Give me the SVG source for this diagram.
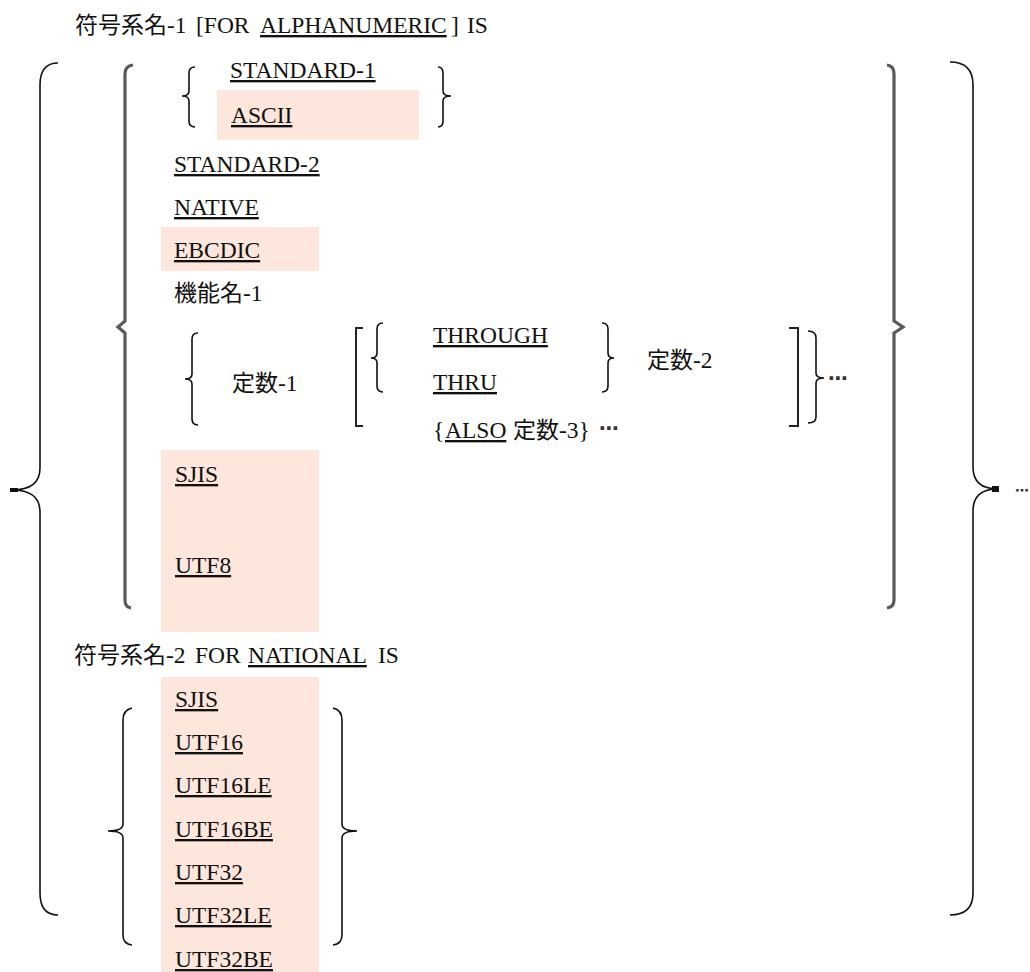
<svg xmlns="http://www.w3.org/2000/svg" width="1030" height="972" viewBox="0 0 1030 972">
<style>
text{font-family:"Liberation Serif","Noto Sans CJK JP",serif;font-size:23.5px;fill:#111}
.cjk{font-size:23px}
.u{text-decoration:underline}
.hl{fill:#fde6dc}
.thin{fill:none;stroke:#111;stroke-width:1.6}
.thick{fill:none;stroke:#5a5a5a;stroke-width:3.2}
.mid{fill:none;stroke:#222;stroke-width:2}
.dots{font-family:"DejaVu Sans",sans-serif;font-size:20px;fill:#333;font-weight:bold}
</style>
<rect width="1030" height="972" fill="#fff"/>
<g id="highlights">
<rect class="hl" x="217" y="90" width="202" height="50"/>
<rect class="hl" x="161" y="227" width="158" height="44"/>
<rect class="hl" x="161" y="450" width="158" height="182"/>
<rect class="hl" x="161" y="677" width="158" height="295"/>
</g>
<g id="connectors">
<path class="thin" d="M58,63 Q40,63 40,85 V468 Q40,490 12,490 Q40,490 40,512 V893 Q40,915 58,915"/>
<rect x="10" y="488" width="8" height="4" fill="#111"/>
<path class="thin" d="M950,62 Q973,62 973,85 V467 Q973,489 998,489 Q973,489 973,511 V893 Q973,915 950,915"/>
<rect x="992" y="486" width="7" height="6" fill="#111"/>
<path class="thick" d="M133,65 Q125,66 125,74 V321 L118,327 L125,333 V600 Q125,607 131,608"/>
<path class="thick" d="M887,65 Q894,66 894,74 V321 L903,327 L894,333 V600 Q894,607 887,608"/>
<path class="thin" d="M195,67 Q189,67 189,73 V91 Q189,96 182,96 Q189,96 189,101 V121 Q189,127 195,127"/>
<path class="thin" d="M438,67 Q443,67 443,73 V91 Q443,96 451,96 Q443,96 443,101 V121 Q443,127 438,127"/>
<path class="thin" d="M198,333 Q192,333 192,339 V374 Q192,379 185,379 Q192,379 192,384 V419 Q192,425 198,425"/>
<path class="mid" d="M363,328 H356 V426 H363"/>
<path class="thin" d="M383,323 Q377,323 377,329 V353 Q377,358 371,358 Q377,358 377,363 V386 Q377,392 383,392"/>
<path class="thin" d="M602,323 Q608,323 608,329 V353 Q608,358 614,358 Q608,358 608,363 V386 Q608,392 602,392"/>
<path class="mid" d="M789,328 H798 V426 H789"/>
<path class="thin" d="M808,331 Q816,331 816,338 V373 Q816,378 824,378 Q816,378 816,383 V417 Q816,423 808,423"/>
<path class="thin" d="M132,708 Q123,710 123,720 V824 Q123,831 108,831 Q123,831 123,838 V935 Q123,944 132,945"/>
<path class="thin" d="M333,708 Q342,710 342,720 V824 Q342,831 357,831 Q342,831 342,838 V935 Q342,944 333,945"/>
</g>
<g id="title1"><text y="33"><tspan x="75" class="cjk">符号系名</tspan><tspan>-1</tspan><tspan x="196">[FOR</tspan><tspan x="260" class="u">ALPHANUMERIC</tspan><tspan x="451">]</tspan><tspan x="467">IS</tspan></text></g>
<g id="standard1"><text x="230" y="78" class="u">STANDARD-1</text></g>
<g id="ascii"><text x="231" y="123" class="u">ASCII</text></g>
<g id="standard2"><text x="174" y="172" class="u">STANDARD-2</text></g>
<g id="native"><text x="174" y="215" class="u">NATIVE</text></g>
<g id="ebcdic"><text x="174" y="258" class="u">EBCDIC</text></g>
<g id="kinoumei"><text x="174" y="301"><tspan class="cjk">機能名</tspan>-1</text></g>
<g id="teisu1"><text x="232" y="391"><tspan class="cjk">定数</tspan>-1</text></g>
<g id="through"><text x="433" y="343" class="u">THROUGH</text></g>
<g id="thru"><text x="433" y="390" class="u">THRU</text></g>
<g id="teisu2"><text x="647" y="368"><tspan class="cjk">定数</tspan>-2</text></g>
<g id="also"><text y="438"><tspan x="433">{</tspan><tspan x="445" class="u">ALSO</tspan><tspan x="513" class="cjk">定数</tspan><tspan>-3}</tspan></text><text class="dots" x="599" y="435">⋯</text></g>
<g id="repeat1"><text class="dots" x="828" y="385">⋯</text></g>
<g id="repeat2"><text class="dots" x="1015" y="495" style="font-size:14px">⋯</text></g>
<g id="sjis1"><text x="175" y="482" class="u">SJIS</text></g>
<g id="utf8"><text x="175" y="573" class="u">UTF8</text></g>
<g id="title2"><text y="663"><tspan x="74" class="cjk">符号系名</tspan><tspan>-2</tspan><tspan x="195">FOR</tspan><tspan x="248" class="u">NATIONAL</tspan><tspan x="378">IS</tspan></text></g>
<g id="sjis2"><text x="175" y="707" class="u">SJIS</text></g>
<g id="utf16"><text x="175" y="750" class="u">UTF16</text></g>
<g id="utf16le"><text x="175" y="793" class="u">UTF16LE</text></g>
<g id="utf16be"><text x="175" y="837" class="u">UTF16BE</text></g>
<g id="utf32"><text x="175" y="880" class="u">UTF32</text></g>
<g id="utf32le"><text x="175" y="923" class="u">UTF32LE</text></g>
<g id="utf32be"><text x="175" y="967" class="u">UTF32BE</text></g>
</svg>
